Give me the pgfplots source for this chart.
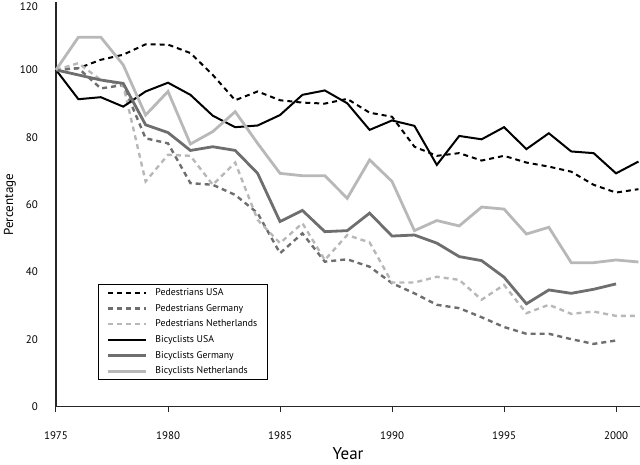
\documentclass[border=0pt]{standalone}
\usepackage{pgfplots}
\pgfplotsset{compat=1.18}
\usepackage{fontspec}
\setmainfont{PT Sans}
\definecolor{dgray}{HTML}{6E6E6E}
\definecolor{lgray}{HTML}{B8B8B8}
\begin{document}
\begin{tikzpicture}
\begin{axis}[
  scale only axis,
  width=584pt, height=404.4pt,
  xmin=1975, xmax=2001.07,
  ymin=0, ymax=120,
  axis lines=left,
  axis line style={-, line width=1.2pt, draw=black!85},
  xtick={1975,1980,1985,1990,1995,2000},
  ytick={0,20,40,60,80,100},
  extra y ticks={120},
  extra y tick style={yticklabel style={yshift=-4pt}},
  x tick label style={/pgf/number format/1000 sep={}, font=\fontsize{11}{12}\selectfont, yshift=-16pt},
  y tick label style={font=\fontsize{11}{12}\selectfont, xshift=-9pt},
  /pgf/number format/assume math mode=true,
  tick align=outside,
  xtick style={draw=black!85, line width=1pt},
  major tick length=5.5pt,
  ytick style={draw=none},
  xlabel={Year},
  ylabel={Percentage},
  xlabel style={font=\fontsize{17}{18}\selectfont, at={(axis description cs:0.5,0)}, anchor=center, yshift=-47pt},
  ylabel style={font=\fontsize{13}{14}\selectfont, at={(axis description cs:-0.0788,0.5)}, anchor=center},
  legend style={at={(rel axis cs:0.0724,0.067)}, anchor=south west,
    draw=black, line width=0.8pt, font=\fontsize{9.8}{11}\selectfont,
    row sep=3.2pt, column sep=6pt, inner xsep=8pt, inner ysep=2pt},
  legend cell align=left,
  legend image code/.code={\draw[#1] (0cm,0cm) -- (38pt,0cm);},
  clip=false,
]
% Pedestrians USA
\addplot[black, line width=2pt, dash pattern=on 5pt off 4pt] coordinates {
(1975,100)(1976,100.5)(1977,103)(1978,104.5)(1979,107.6)(1980,107.5)(1981,105)(1982,98.5)(1983,91)(1984,93.6)(1985,91)(1986,90.3)(1987,90)(1988,91.4)(1989,87.3)(1990,86.1)(1991,77.2)(1992,74.5)(1993,75.3)(1994,73.1)(1995,74.5)(1996,72.5)(1997,71.3)(1998,69.8)(1999,65.9)(2000,63.6)(2001,64.6)};
% Pedestrians Germany
\addplot[dgray, line width=2.4pt, dash pattern=on 5pt off 4pt] coordinates {
(1975,100)(1976,100.5)(1977,94.5)(1978,95.5)(1979,79.7)(1980,78.2)(1981,66.4)(1982,65.9)(1983,62.9)(1984,57.5)(1985,45.6)(1986,51.5)(1987,43.1)(1988,43.8)(1989,41.6)(1990,36.7)(1991,33.7)(1992,30.3)(1993,29.3)(1994,26.6)(1995,23.7)(1996,21.7)(1997,21.7)(1998,20.1)(1999,18.7)(2000,19.7)};
% Pedestrians Netherlands
\addplot[lgray, line width=2.4pt, dash pattern=on 5pt off 4pt] coordinates {
(1975,100)(1976,102)(1977,97)(1978,95.5)(1979,66.9)(1980,74.8)(1981,74.5)(1982,65.9)(1983,72.5)(1984,55.5)(1985,48.6)(1986,54.5)(1987,43.6)(1988,51)(1989,48.8)(1990,36.9)(1991,36.9)(1992,38.6)(1993,37.7)(1994,31.8)(1995,36.2)(1996,27.8)(1997,30.3)(1998,27.6)(1999,28.3)(2000,27)(2001,27)};
% Bicyclists USA
\addplot[black, line width=2pt] coordinates {
(1975,100)(1976,91.3)(1977,91.9)(1978,89.1)(1979,93.6)(1980,96.2)(1981,92.6)(1982,86.4)(1983,83)(1984,83.5)(1985,86.6)(1986,92.6)(1987,93.9)(1988,90.1)(1989,82.2)(1990,85)(1991,83.4)(1992,71.8)(1993,80.4)(1994,79.4)(1995,83)(1996,76.5)(1997,81.2)(1998,75.8)(1999,75.3)(2000,69.3)(2001,72.8)};
% Bicyclists Germany
\addplot[dgray, line width=2.8pt] coordinates {
(1975,100)(1976,98.5)(1977,97)(1978,96)(1979,83.7)(1980,81.4)(1981,76.1)(1982,77.2)(1983,76.1)(1984,69.3)(1985,55)(1986,58.3)(1987,52)(1988,52.3)(1989,57.5)(1990,50.7)(1991,51)(1992,48.6)(1993,44.6)(1994,43.4)(1995,38.5)(1996,30.6)(1997,34.7)(1998,33.7)(1999,34.9)(2000,36.5)};
% Bicyclists Netherlands
\addplot[lgray, line width=2.8pt] coordinates {
(1975,100)(1976,109.7)(1977,109.7)(1978,101.5)(1979,86.6)(1980,93.6)(1981,78)(1982,81.7)(1983,87.6)(1984,78.2)(1985,69.3)(1986,68.6)(1987,68.6)(1988,61.9)(1989,73.3)(1990,66.9)(1991,52.3)(1992,55.3)(1993,53.7)(1994,59.3)(1995,58.7)(1996,51.3)(1997,53.3)(1998,42.8)(1999,42.8)(2000,43.6)(2001,43)};
\legend{Pedestrians USA, Pedestrians Germany, Pedestrians Netherlands, Bicyclists USA, Bicyclists Germany, Bicyclists Netherlands}
\end{axis}
\pgfresetboundingbox
\useasboundingbox (-56pt,-58pt) rectangle (584pt,406.9pt);
\end{tikzpicture}
\end{document}
